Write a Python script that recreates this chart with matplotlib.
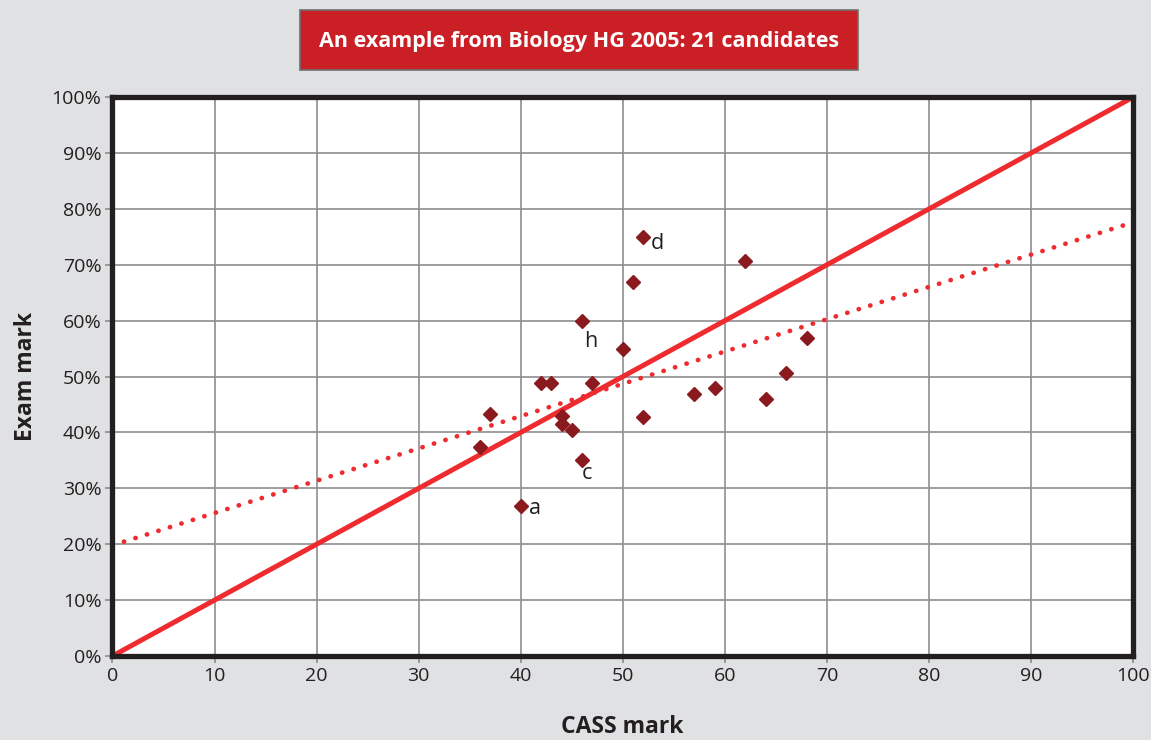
import numpy as np
import matplotlib
matplotlib.use("Agg")
import matplotlib.pyplot as plt
from matplotlib.patches import Rectangle
from matplotlib.ticker import FuncFormatter

plt.rcParams['font.family'] = ['Open Sans', 'DejaVu Sans']

# CASS mark vs exam mark (%) for the 21 candidates
cass = [40, 36, 37, 42, 43, 44, 44, 45, 46, 46, 47, 50, 51, 52, 52, 57, 59, 62, 64, 66, 68]
exam = [26.8, 37.4, 43.3, 48.8, 48.8, 42.9, 41.5, 40.4, 35.1, 59.9, 48.8, 54.9, 66.9,
        74.9, 42.8, 46.9, 47.9, 70.7, 46.0, 50.6, 56.9]

# labelled candidates
tags = ['a', 'c', 'd', 'h']
tag_x = [40, 46, 52, 46]
tag_y = [26.8, 35.1, 74.9, 59.9]
tag_off = [(8, -2), (0, -14), (7, -6), (2, -20)]

# equality line and trend line
eq_x = [0, 100]
eq_y = [0, 100]
trend_x = [0, 100]
trend_y = [19.8, 77.6]

bg = '#e0e1e3'
red = '#ee2c30'
dark = '#231f20'

fig = plt.figure(figsize=(11.51, 7.40), dpi=100, facecolor=bg)
ax = fig.add_axes([0.0977, 0.1135, 0.887, 0.7554])
ax.set_facecolor('white')

ax.set_xlim(0, 100)
ax.set_ylim(0, 100)
ax.set_xticks(np.arange(0, 101, 10))
ax.set_yticks(np.arange(0, 101, 10))
ax.yaxis.set_major_formatter(FuncFormatter(lambda v, p: f'{v:.0f}%'))
ax.grid(True, color='#8e8e90', lw=1.2)
ax.set_axisbelow(True)

for s in ax.spines.values():
    s.set_linewidth(3.8)
    s.set_color(dark)
    s.set_zorder(5)

ax.tick_params(length=5, width=1.2, color='#8e8e90', labelsize=14,
               labelcolor=dark, pad=3)

ax.plot(eq_x, eq_y, color=red, lw=3.6, solid_capstyle='butt', zorder=3, clip_on=False)
ax.plot(trend_x, trend_y, color=red, lw=3.4, linestyle=(0, (0.05, 2.5)),
        dash_capstyle='round', zorder=3, clip_on=False)
ax.plot(cass, exam, linestyle='none', marker='D', ms=7.5, color='#8b1a1e', zorder=4)

for t, x, y, off in zip(tags, tag_x, tag_y, tag_off):
    ax.annotate(t, (x, y), xytext=off, textcoords='offset pixels', fontsize=15.5,
                color=dark, ha='left', va='center')

fig.text(622 / 1151, 1 - 727 / 740, 'CASS mark', fontsize=16.5, fontweight='bold',
         color=dark, ha='center', va='center')
fig.text(26 / 1151, 1 - 376 / 740, 'Exam mark', fontsize=16.5, fontweight='bold',
         color=dark, ha='center', va='center', rotation=90)

# title box
fig.patches.append(Rectangle((300 / 1151, 1 - 70 / 740), 558 / 1151, 60 / 740,
                             transform=fig.transFigure, facecolor='#c91f25',
                             edgecolor='#6d6e70', lw=1.2))
fig.text(579 / 1151, 1 - 41 / 740, 'An example from Biology HG 2005: 21 candidates',
         ha='center', va='center', color='white', fontsize=15.5, fontweight='bold')

fig.savefig('out.png', dpi=100, facecolor=bg)
